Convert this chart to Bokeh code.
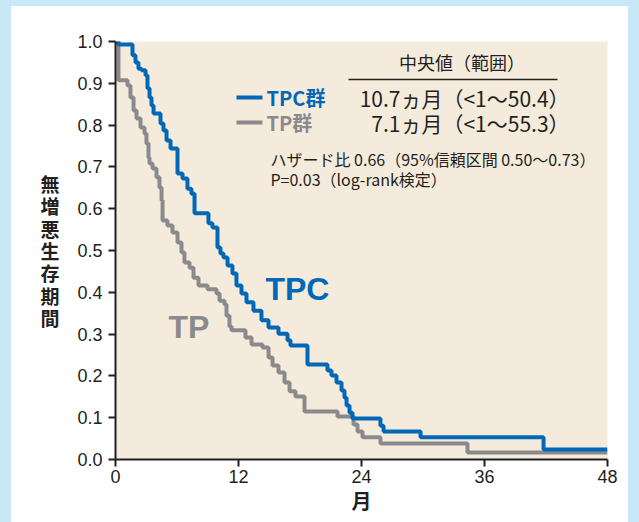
from bokeh.plotting import figure
from bokeh.models import Label, FixedTicker, PrintfTickFormatter
from bokeh.embed import file_html
from bokeh.resources import INLINE

# ---- data ----
tpc_time = [0, 0.29, 1.66, 1.95, 2.24, 2.54, 2.93, 3.12, 3.32, 3.51, 3.71, 4.39, 4.68,
            4.98, 5.37, 6.05, 6.54, 7.02, 7.41, 7.71, 9.07, 9.46, 9.95, 10.24, 10.54,
            10.93, 11.41, 11.80, 12.29, 12.78, 13.46, 14.24, 14.93, 15.90, 16.78, 17.07,
            18.73, 20.68, 21.07, 21.56, 22.05, 22.34, 22.54, 22.83, 23.12, 25.85, 26.15,
            29.76, 41.76, 48]
tpc_surv = [1.0, 0.993, 0.967, 0.950, 0.935, 0.931, 0.919, 0.888, 0.866, 0.847, 0.828,
            0.804, 0.787, 0.763, 0.744, 0.684, 0.672, 0.648, 0.636, 0.589, 0.565, 0.555,
            0.507, 0.493, 0.483, 0.464, 0.445, 0.416, 0.397, 0.376, 0.356, 0.333, 0.316,
            0.301, 0.285, 0.273, 0.227, 0.213, 0.201, 0.184, 0.165, 0.148, 0.129, 0.112,
            0.098, 0.081, 0.067, 0.053, 0.024, 0.024]
tp_time = [0, 0.29, 1.17, 1.46, 1.76, 2.05, 2.44, 2.83, 3.02, 3.22, 3.32, 3.61, 4.00,
           4.29, 4.49, 4.59, 5.07, 5.56, 6.05, 6.44, 6.73, 7.22, 7.61, 8.10, 8.98, 9.85,
           10.15, 10.63, 10.83, 11.12, 11.32, 12.68, 13.27, 14.34, 14.93, 15.32, 15.90,
           16.49, 16.98, 17.56, 18.44, 21.66, 23.22, 23.61, 24.10, 25.85, 34.34, 48]
tp_surv = [1.0, 0.907, 0.895, 0.866, 0.835, 0.816, 0.794, 0.780, 0.756, 0.722, 0.708,
           0.696, 0.675, 0.651, 0.620, 0.572, 0.560, 0.543, 0.519, 0.495, 0.471, 0.459,
           0.435, 0.416, 0.407, 0.397, 0.380, 0.371, 0.344, 0.318, 0.309, 0.292, 0.275,
           0.268, 0.244, 0.225, 0.208, 0.184, 0.163, 0.151, 0.115, 0.103, 0.084, 0.067,
           0.053, 0.038, 0.017, 0.017]
x_ticks = [0, 12, 24, 36, 48]
y_ticks = [0.0, 0.1, 0.2, 0.3, 0.4, 0.5, 0.6, 0.7, 0.8, 0.9, 1.0]
y_axis_title = "無増悪生存期間"
x_axis_title = "月"
legend_header = "中央値（範囲）"
group_names = ["TPC群", "TP群"]
median_texts = ["10.7ヵ月（<1～50.4）", "7.1ヵ月（<1～55.3）"]
stat_lines = ["ハザード比 0.66（95%信頼区間 0.50～0.73）", "P=0.03（log-rank検定）"]
curve_labels = ["TPC", "TP"]

# ---- styles ----
BLUE = "#0068b7"
GRAY = "#8a8a8c"
INK = "#231f20"
BEIGE = "#f5ebdc"
FRAME_BLUE = "#c8e8f8"
JP = "Noto Sans CJK JP"
LAT = "Liberation Sans"

p = figure(frame_width=492, frame_height=418, x_range=(0, 48), y_range=(0, 1),
           output_backend="svg", toolbar_location=None,
           min_border_left=104, min_border_right=21, min_border_top=35,
           min_border_bottom=50)
p.styles = {"border-left": f"11px solid {FRAME_BLUE}",
            "border-top": f"6px solid {FRAME_BLUE}",
            "border-right": f"11px solid {FRAME_BLUE}",
            "padding-bottom": "8px",
            "background-color": "white"}
p.background_fill_color = BEIGE
p.border_fill_color = "white"
p.outline_line_color = None
p.xgrid.visible = False
p.ygrid.visible = False

p.xaxis.ticker = FixedTicker(ticks=x_ticks)
p.yaxis.ticker = FixedTicker(ticks=y_ticks)
p.yaxis.formatter = PrintfTickFormatter(format="%.1f")
for ax in (p.xaxis, p.yaxis):
    ax.axis_line_width = 2
    ax.axis_line_color = INK
    ax.major_tick_line_width = 2
    ax.major_tick_line_color = INK
    ax.major_tick_out = 7
    ax.major_tick_in = 0
    ax.minor_tick_line_color = None
    ax.major_label_text_font = LAT
    ax.major_label_text_font_size = "18px"
    ax.major_label_text_color = INK
    ax.axis_label_text_font = JP
    ax.axis_label_text_font_style = "bold"
    ax.axis_label_text_color = INK
    ax.axis_label_text_font_size = "19px"
p.yaxis.major_label_standoff = 6
p.xaxis.major_label_standoff = 3

p.yaxis.axis_label = "\n".join(y_axis_title)
p.yaxis.axis_label_orientation = "horizontal"
p.yaxis.axis_label_text_line_height = 0.83
p.yaxis.axis_label_standoff = 15
p.xaxis.axis_label = x_axis_title
p.xaxis.axis_label_standoff = 0
p.xaxis.axis_label_text_font_size = "20px"

# curves
p.step(tp_time, tp_surv, mode="after", line_color=GRAY, line_width=4)
p.step(tpc_time, tpc_surv, mode="after", line_color=BLUE, line_width=4)

# legend block
p.add_layout(Label(x=33.8, y=0.950, text=legend_header, text_font=JP,
                   text_font_size="18px", text_color=INK,
                   text_align="center", text_baseline="middle"))
p.segment(x0=[22.73], x1=[43.12], y0=[0.909], y1=[0.909], line_color=INK, line_width=1.5)

colors = [BLUE, GRAY]
rows_y = [0.866, 0.806]
for name, med, c, yy in zip(group_names, median_texts, colors, rows_y):
    p.segment(x0=[11.80], x1=[14.34], y0=[yy], y1=[yy], line_color=c, line_width=4)
    p.add_layout(Label(x=14.73, y=yy, text=name, text_font=JP, text_font_size="20px",
                       text_font_style="bold", text_color=c,
                       text_align="left", text_baseline="middle"))
    p.add_layout(Label(x=44.3, y=yy, text=med, text_font=JP, text_font_size="21px",
                       text_color=INK, text_align="right", text_baseline="middle"))

for txt, yy in zip(stat_lines, [0.720, 0.672]):
    p.add_layout(Label(x=15.12, y=yy, text=txt, text_font=JP, text_font_size="16px",
                       text_color=INK, text_align="left", text_baseline="middle"))

p.add_layout(Label(x=14.63, y=0.409, text=curve_labels[0], text_font=LAT,
                   text_font_size="32px", text_font_style="bold", text_color=BLUE,
                   text_align="left", text_baseline="middle"))
p.add_layout(Label(x=5.17, y=0.316, text=curve_labels[1], text_font=LAT,
                   text_font_size="32px", text_font_style="bold", text_color=GRAY,
                   text_align="left", text_baseline="middle"))

open("out.html", "w").write(file_html(p, INLINE))
